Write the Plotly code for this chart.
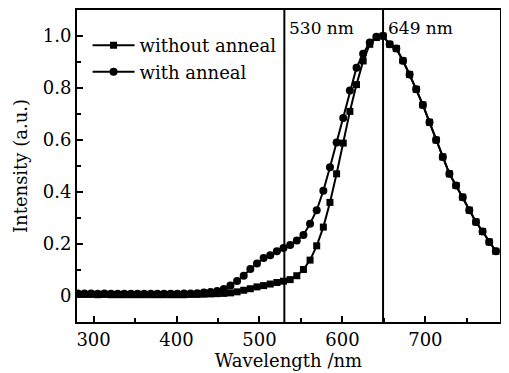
import plotly.graph_objects as go

wavelength = [281, 289, 297, 305, 313, 321, 329, 337, 345, 353, 361, 369, 377, 385,
              393, 401, 409, 417, 425, 433, 441, 449, 457, 465, 473, 481, 489, 497,
              505, 513, 521, 529, 537, 545, 553, 561, 569, 577, 585, 593, 601, 609,
              617, 625, 633, 641, 649, 657, 665, 673, 681, 689, 697, 705, 713, 721,
              729, 737, 745, 753, 761, 769, 777, 785]

without_anneal = [0.006, 0.006, 0.006, 0.005, 0.006, 0.005, 0.005, 0.005, 0.005, 0.005,
                  0.005, 0.005, 0.005, 0.005, 0.005, 0.005, 0.005, 0.006, 0.006, 0.007,
                  0.008, 0.009, 0.010, 0.012, 0.016, 0.022, 0.028, 0.035, 0.040, 0.046,
                  0.052, 0.057, 0.063, 0.078, 0.102, 0.138, 0.193, 0.265, 0.360, 0.470,
                  0.588, 0.710, 0.813, 0.904, 0.968, 0.994, 1.000, 0.968, 0.952, 0.905,
                  0.852, 0.795, 0.735, 0.668, 0.600, 0.535, 0.470, 0.425, 0.380, 0.330,
                  0.285, 0.248, 0.208, 0.172]

with_anneal = [0.010, 0.010, 0.010, 0.009, 0.010, 0.009, 0.009, 0.009, 0.009, 0.009,
               0.009, 0.009, 0.009, 0.009, 0.009, 0.009, 0.010, 0.010, 0.011, 0.013,
               0.015, 0.019, 0.027, 0.040, 0.058, 0.078, 0.104, 0.125, 0.146, 0.157,
               0.172, 0.185, 0.196, 0.213, 0.235, 0.278, 0.330, 0.405, 0.495, 0.590,
               0.685, 0.790, 0.878, 0.932, 0.975, 0.997, 1.000, 0.968, 0.952, 0.905,
               0.852, 0.795, 0.735, 0.668, 0.600, 0.535, 0.470, 0.425, 0.380, 0.330,
               0.285, 0.248, 0.208, 0.172]

peak_lines = [530, 649]
peak_labels = ["530 nm", "649 nm"]

x_ticks = [300, 400, 500, 600, 700]
y_ticks = [0, 0.2, 0.4, 0.6, 0.8, 1.0]
y_ticktext = ["0", "0.2", "0.4", "0.6", "0.8", "1.0"]

FONT = "DejaVu Serif"

fig = go.Figure()
fig.add_trace(go.Scatter(x=wavelength, y=without_anneal, mode="lines+markers",
                         name="without anneal",
                         line=dict(color="black", width=2),
                         marker=dict(symbol="square", size=7, color="black")))
fig.add_trace(go.Scatter(x=wavelength, y=with_anneal, mode="lines+markers",
                         name="with anneal",
                         line=dict(color="black", width=2),
                         marker=dict(symbol="circle", size=8, color="black")))

for xv, lab in zip(peak_lines, peak_labels):
    fig.add_shape(type="line", x0=xv, x1=xv, y0=0, y1=1, xref="x", yref="paper",
                  line=dict(color="black", width=2))
    fig.add_annotation(x=xv, y=0.942, xref="x", yref="paper", text=lab,
                       showarrow=False, xanchor="left", yanchor="middle", xshift=3,
                       font=dict(family=FONT, size=17, color="black"))

# page body has an 8px default margin, so the figure is sized to fit the window
fig.update_layout(
    width=501, height=365,
    margin=dict(l=69, r=9, t=2, b=51),
    paper_bgcolor="white", plot_bgcolor="white",
    font=dict(family=FONT, size=18, color="black"),
    showlegend=True,
    legend=dict(x=0.025, y=0.945, xanchor="left", yanchor="top",
                bgcolor="rgba(0,0,0,0)", font=dict(family=FONT, size=18),
                tracegroupgap=0, itemsizing="trace", itemwidth=42),
)
fig.update_xaxes(range=[280, 790], tickvals=x_ticks, ticks="inside", ticklen=6,
                 tickwidth=2, tickcolor="black", automargin=False,
                 tickfont=dict(family=FONT, size=18),
                 minor=dict(dtick=50, ticks="inside", ticklen=4, tickwidth=1.5,
                            tickcolor="black", tick0=250),
                 showline=True, linecolor="black", linewidth=2, mirror=True,
                 showgrid=False, zeroline=False,
                 title=dict(text="Wavelength /nm", standoff=0,
                            font=dict(family=FONT, size=18)))
fig.update_yaxes(range=[-0.1, 1.1], tickvals=y_ticks, ticktext=y_ticktext,
                 ticks="inside", ticklen=6, tickwidth=2, tickcolor="black",
                 automargin=False, tickfont=dict(family=FONT, size=18),
                 minor=dict(dtick=0.1, ticks="inside", ticklen=4, tickwidth=1.5,
                            tickcolor="black", tick0=0),
                 showline=True, linecolor="black", linewidth=2, mirror=True,
                 showgrid=False, zeroline=False,
                 title=dict(text="Intensity (a.u.)", standoff=10,
                            font=dict(family=FONT, size=18)))

fig.write_html("out.html")
